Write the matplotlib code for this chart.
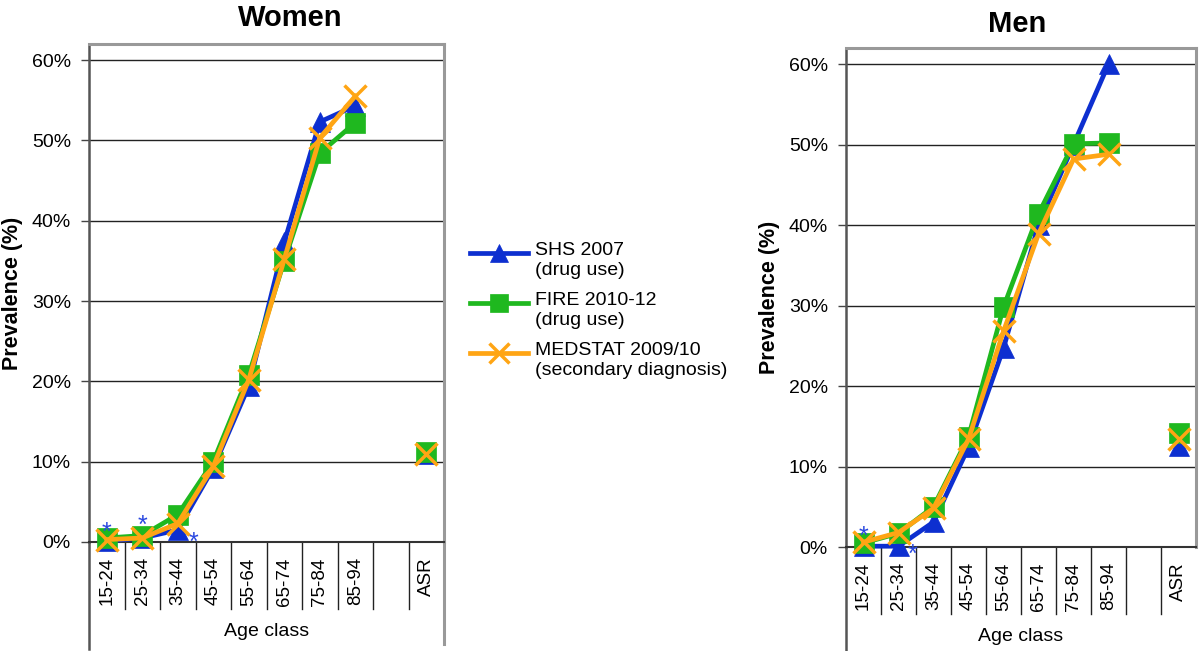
#%%
# IMPORTS #######################################

import matplotlib
matplotlib.use("Agg")
import matplotlib.pyplot as plt
from matplotlib.lines import Line2D
import numpy as np

# SETUP #########################################

plt.rcParams.update({
    "font.family": ["Liberation Sans", "DejaVu Sans"],
    "font.size": 14,
})

# DATA ##########################################

age_classes = ["15-24", "25-34", "35-44", "45-54", "55-64",
               "65-74", "75-84", "85-94", "", "ASR"]
series_names = ["SHS 2007\n(drug use)",
                "FIRE 2010-12\n(drug use)",
                "MEDSTAT 2009/10\n(secondary diagnosis)"]

# prevalence [%], None = empty slot before the age-standardised rate
women_shs = [0.1, 0.5, 1.5, 9.2, 19.4, 37.3, 52.3, 54.3, None, 10.9]
women_fire = [0.5, 0.8, 3.4, 10.0, 20.8, 35.0, 48.4, 52.2, None, 11.2]
women_medstat = [0.3, 0.5, 2.3, 9.4, 20.2, 35.2, 50.3, 55.5, None, 10.9]

men_shs = [0.1, 0.1, 3.1, 12.4, 24.7, 40.0, 50.0, 60.0, None, 12.5]
men_fire = [0.5, 1.7, 5.0, 13.7, 29.8, 41.4, 50.1, 50.2, None, 14.2]
men_medstat = [0.6, 1.8, 4.8, 13.4, 26.8, 38.9, 48.2, 48.8, None, 13.4]

# age classes of SHS flagged with *
women_stars = [0, 1, 2]
men_stars = [0, 1]

# STYLE #########################################

colors = ["#0d2fd0", "#1fb81f", "#ffa514"]
markers = ["^", "s", "x"]
marker_sizes = [15, 14, 15.5]
W, H = 1200, 651

# FIGURE ########################################

fig = plt.figure(figsize=(12, 6.51), dpi=100)


def px_rect(left, top, right, bottom):
    return [left / W, 1 - bottom / H, (right - left) / W, (bottom - top) / H]


def draw_panel(ax, series, stars, star_offsets, title, title_xy, ylabel_x,
               right_sep):
    x = np.arange(len(age_classes))
    for i, vals in enumerate(series):
        y = np.array([np.nan if v is None else v for v in vals], dtype=float)
        ax.plot(x, y, color=colors[i], linewidth=3.4, marker=markers[i],
                markersize=marker_sizes[i], markeredgewidth=2.5 if markers[i] == "x" else 0.5,
                markeredgecolor=colors[i], zorder=3 + i, clip_on=False)

    for idx, (dx, dy) in zip(stars, star_offsets):
        ax.annotate("*", xy=(idx, series[0][idx]), xytext=(dx, dy),
                    textcoords="offset points", ha="center", va="center",
                    color="#2a48e0", fontsize=18, zorder=10)

    ax.set_xlim(-0.5, len(age_classes) - 0.5)
    ax.set_ylim(0, 62)
    ax.set_yticks(range(0, 61, 10))
    ax.set_yticklabels([f"{v}%" for v in range(0, 61, 10)])
    ax.set_xticks(x)
    ax.set_xticklabels(age_classes, rotation=90, fontsize=13.5)
    ax.tick_params(axis="x", length=0, pad=11)
    ax.tick_params(axis="y", direction="out", length=6, width=1,
                   color="#444444", labelsize=14, pad=7)

    ax.grid(which="major", axis="y", color="#222222", linewidth=1)
    ax.set_axisbelow(True)

    ax.spines["left"].set_color("#555555")
    ax.spines["left"].set_linewidth(1.8)
    ax.spines["bottom"].set_color("#333333")
    ax.spines["bottom"].set_linewidth(1.5)
    for s in ["top", "right"]:
        ax.spines[s].set_color("#999999")
        ax.spines[s].set_linewidth(2.2)

    # category separators below the axis
    trans = ax.get_xaxis_transform()
    for b in np.arange(0.5, len(age_classes) - 1, 1):
        ax.plot([b, b], [0, -0.135], transform=trans, color="#222222",
                linewidth=1, clip_on=False)
    ax.plot([-0.5, -0.5], [0, -0.215], transform=trans, color="#555555",
            linewidth=1.8, clip_on=False)
    if right_sep:
        ax.plot([9.5, 9.5], [0, -0.205], transform=trans, color="#999999",
                linewidth=2.2, clip_on=False)

    ax.text(0.5, -0.18, "Age class", transform=ax.transAxes, ha="center",
            va="center", fontsize=14)

    fig.text(title_xy[0] / W, 1 - title_xy[1] / H, title, ha="center",
             va="center", fontsize=21, fontweight="bold")
    pos = ax.get_position()
    fig.text(ylabel_x / W, (pos.y0 + pos.y1) / 2, "Prevalence (%)",
             rotation=90, ha="center", va="center", fontsize=15.5,
             fontweight="bold")


ax_w = fig.add_axes(px_rect(89, 44, 444, 542))
draw_panel(ax_w, [women_shs, women_fire, women_medstat], women_stars,
           [(0, 6), (0, 8.5), (11.5, -9.5)], "Women", (290, 18), 13, True)

ax_m = fig.add_axes(px_rect(846, 48, 1196, 547))
draw_panel(ax_m, [men_shs, men_fire, men_medstat], men_stars,
           [(0, 6.5), (10, -6)], "Men", (1017, 24), 769, False)

# LEGEND ########################################

for i, name in enumerate(series_names):
    y_row = 1 - (253 + 50 * i) / H
    fig.add_artist(Line2D([470 / W, 528 / W], [y_row, y_row],
                          color=colors[i], linewidth=3.4))
    fig.add_artist(Line2D([499 / W], [y_row], color=colors[i],
                          marker=markers[i], markersize=marker_sizes[i] - 1.5,
                          markeredgewidth=2.5 if markers[i] == "x" else 0.5,
                          markeredgecolor=colors[i], linestyle="none"))
    fig.text(535 / W, y_row + 11 / H, name, ha="left", va="top",
             fontsize=14, linespacing=1.2)

# EXPORT ########################################

fig.savefig("out.png", dpi=100)
# %%
